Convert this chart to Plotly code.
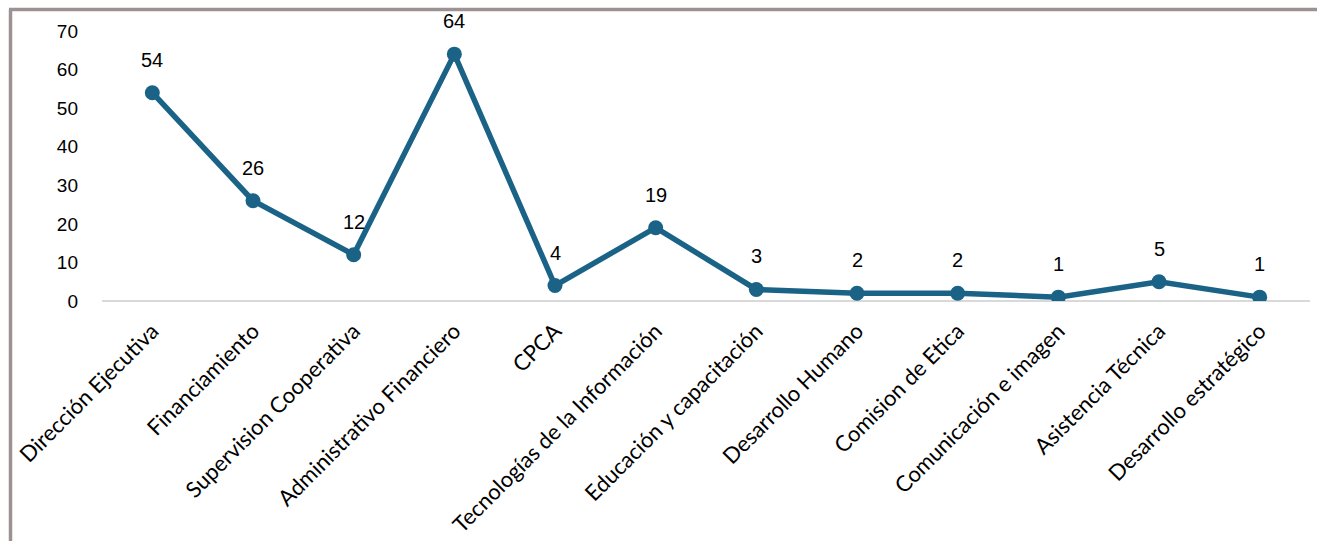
import plotly.graph_objects as go

categories = ["Dirección Ejecutiva", "Financiamiento", "Supervision Cooperativa",
              "Administrativo Financiero", "CPCA", "Tecnologías de la Información",
              "Educación y capacitación", "Desarrollo Humano", "Comision de Etica",
              "Comunicación e imagen", "Asistencia Técnica", "Desarrollo estratégico"]
values = [54, 26, 12, 64, 4, 19, 3, 2, 2, 1, 5, 1]
y_ticks = [0, 10, 20, 30, 40, 50, 60, 70]

W, H = 1317, 541
ML, MR, MT, MB = 102, 7, 31, 240
pw, ph = W - ML - MR, H - MT - MB

def px_x(x):
    return (x - ML) / pw

def px_y(y):
    return 1 - (y - MT) / ph

line_color = "#1a6386"

fig = go.Figure()
fig.add_trace(go.Scatter(
    x=categories, y=values, mode="lines+markers",
    line=dict(color=line_color, width=5.5),
    marker=dict(color=line_color, size=15),
    hoverinfo="x+y", showlegend=False,
))

for c, v in zip(categories, values):
    fig.add_annotation(x=c, y=v, text=str(v), showarrow=False, yshift=33,
                       font=dict(family="Liberation Sans, Arial", size=20, color="#000000"))

fig.add_shape(type="line", xref="paper", yref="paper",
              x0=px_x(10.5), x1=px_x(10.5), y0=px_y(9.5), y1=px_y(560),
              line=dict(color="#9c9292", width=3.5))
fig.add_shape(type="line", xref="paper", yref="paper",
              x0=px_x(9), x1=px_x(1330), y0=px_y(9.5), y1=px_y(9.5),
              line=dict(color="#9c9292", width=3.5))

fig.update_layout(
    width=W, height=H,
    margin=dict(l=ML, r=MR, t=MT, b=MB),
    paper_bgcolor="white", plot_bgcolor="white",
    xaxis=dict(type="category", tickangle=-45, showgrid=False, zeroline=False,
               showline=False, ticks="", range=[-0.5, len(categories) - 0.5],
               ticklabelstandoff=12, automargin=False,
               tickfont=dict(family="Lato, Carlito, Calibri", size=22, color="#000000")),
    yaxis=dict(range=[0, 70], tickvals=y_ticks, showgrid=False, zeroline=True,
               zerolinecolor="#d9d9d9", zerolinewidth=1.5, showline=False, ticks="",
               ticklabelstandoff=23, automargin=False,
               tickfont=dict(family="Liberation Sans, Arial", size=19, color="#000000")),
)

fig.write_html("out.html")
